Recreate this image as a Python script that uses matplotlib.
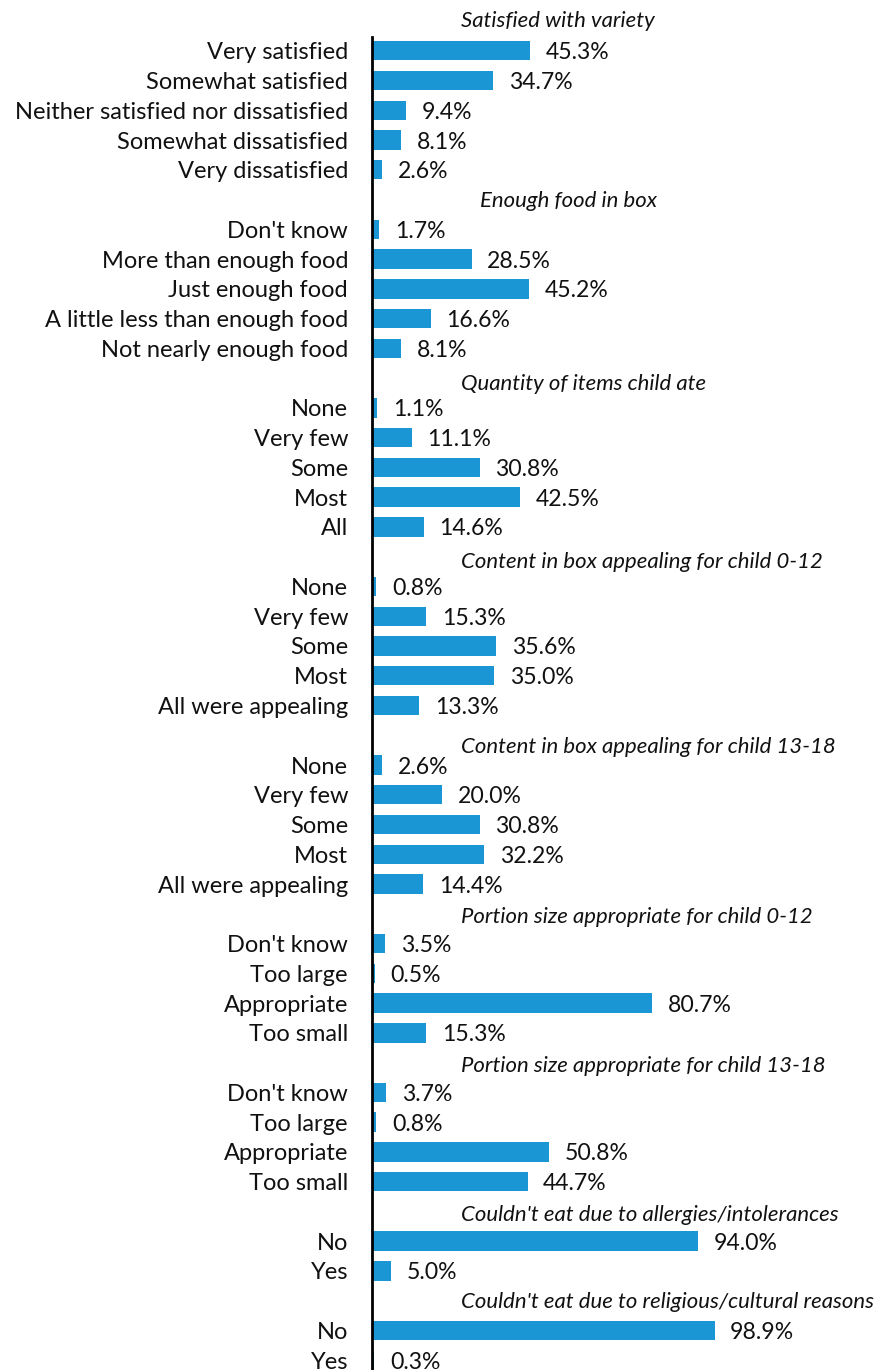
import matplotlib
matplotlib.use("Agg")
import matplotlib.pyplot as plt

# ---- data ----
group_titles = [
    "Satisfied with variety",
    "Enough food in box",
    "Quantity of items child ate",
    "Content in box appealing for child 0-12",
    "Content in box appealing for child 13-18",
    "Portion size appropriate for child 0-12",
    "Portion size appropriate for child 13-18",
    "Couldn't eat due to allergies/intolerances",
    "Couldn't eat due to religious/cultural reasons",
]
group_labels = [
    ["Very satisfied", "Somewhat satisfied", "Neither satisfied nor dissatisfied",
     "Somewhat dissatisfied", "Very dissatisfied"],
    ["Don't know", "More than enough food", "Just enough food",
     "A little less than enough food", "Not nearly enough food"],
    ["None", "Very few", "Some", "Most", "All"],
    ["None", "Very few", "Some", "Most", "All were appealing"],
    ["None", "Very few", "Some", "Most", "All were appealing"],
    ["Don't know", "Too large", "Appropriate", "Too small"],
    ["Don't know", "Too large", "Appropriate", "Too small"],
    ["No", "Yes"],
    ["No", "Yes"],
]
group_values = [
    [45.3, 34.7, 9.4, 8.1, 2.6],
    [1.7, 28.5, 45.2, 16.6, 8.1],
    [1.1, 11.1, 30.8, 42.5, 14.6],
    [0.8, 15.3, 35.6, 35.0, 13.3],
    [2.6, 20.0, 30.8, 32.2, 14.4],
    [3.5, 0.5, 80.7, 15.3],
    [3.7, 0.8, 50.8, 44.7],
    [94.0, 5.0],
    [98.9, 0.3],
]

# ---- style ----
W, H = 875, 1370
DPI = 100
BAR_COLOR = "#1a96d4"
FONT = "Lato"
FS_LABEL = 17.0
FS_VALUE = 16.6
FS_HEAD = 15.9
row_px = 29.76
first_row_px = 21.0
axis_x_px = 372
axis_top_px = 37
px_per_pct = 3.45
header_x_px = 461
header_dx_px = [0, 19, 0, 0, 0, 0, 0, 0, 0]
header_base_px = [5.7, 7, 12, 11.6, 18, 9.5, 9.7, 9.3, 7.6]
text_base_px = 8.5
label_gap_px = 17

fig = plt.figure(figsize=(W / DPI, H / DPI), dpi=DPI)
ax_left = axis_x_px / W
ax_top = 1 - axis_top_px / H
ax = fig.add_axes([ax_left, 0.0, 1 - ax_left, ax_top])

y_top = (axis_top_px - first_row_px) / row_px
y_bot = (H - first_row_px) / row_px
ax.set_ylim(y_bot, y_top)
xmax = (W - axis_x_px) / px_per_pct
ax.set_xlim(0, xmax)

row = 0
for title, labels, vals, dx, dy in zip(group_titles, group_labels, group_values,
                                        header_dx_px, header_base_px):
    ax.text((header_x_px + dx - axis_x_px) / px_per_pct, row + dy / row_px, title,
            ha="left", va="baseline", fontsize=FS_HEAD, family=FONT, style="italic",
            color="#111111", clip_on=False)
    row += 1
    ys = list(range(row, row + len(vals)))
    ax.barh(ys, vals, height=0.65, color=BAR_COLOR, left=0.4, edgecolor="none")
    for y, v, lab in zip(ys, vals, labels):
        yb = y + text_base_px / row_px
        ax.text(v + label_gap_px / px_per_pct, yb, f"{v:.1f}%", ha="left", va="baseline",
                fontsize=FS_VALUE, family=FONT, color="#111111", clip_on=False)
        ax.text(-24 / px_per_pct, yb, lab, ha="right", va="baseline",
                fontsize=FS_LABEL, family=FONT, color="#111111", clip_on=False)
    row += len(vals)

for s in ["top", "right", "bottom"]:
    ax.spines[s].set_visible(False)
ax.spines["left"].set_linewidth(2.0)
ax.spines["left"].set_color("#000000")
ax.set_xticks([])
ax.set_yticks([])
ax.patch.set_alpha(0)

fig.savefig("out.png", dpi=DPI)
